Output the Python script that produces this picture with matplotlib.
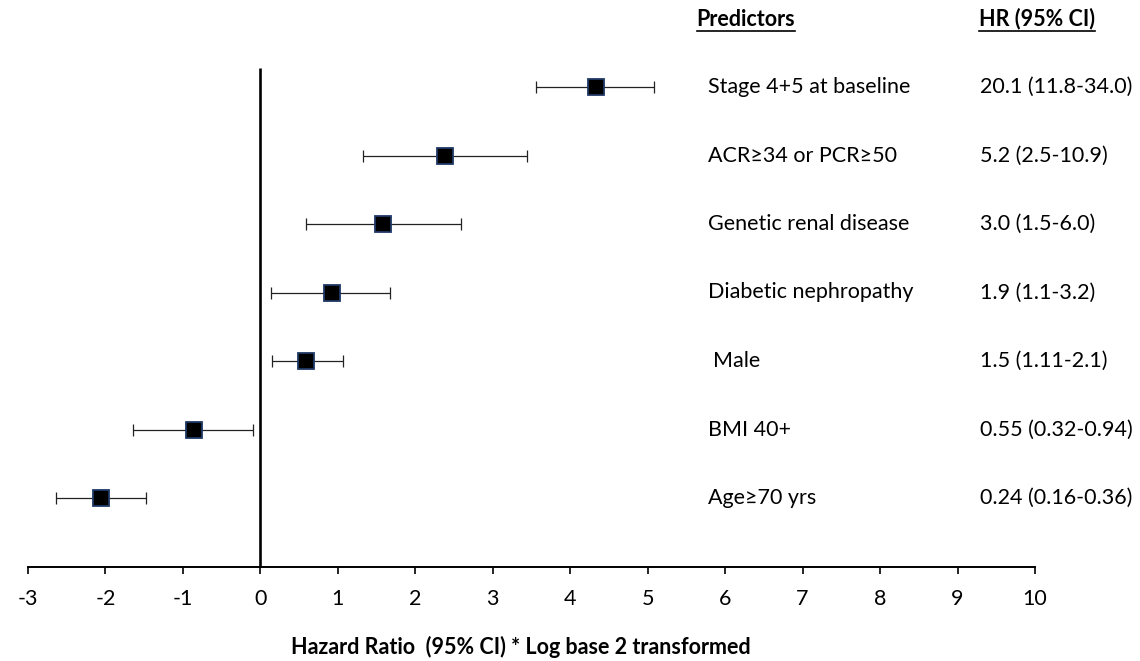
import numpy as np
import matplotlib
matplotlib.use("Agg")
import matplotlib.pyplot as plt
from matplotlib.lines import Line2D

plt.rcParams['font.family'] = ['Lato', 'DejaVu Sans']

predictors = ["Stage 4+5 at baseline", "ACR\u226534 or PCR\u226550", "Genetic renal disease",
              "Diabetic nephropathy", "Male", "BMI 40+", "Age\u226570 yrs"]
hr = [20.1, 5.2, 3.0, 1.9, 1.5, 0.55, 0.24]
ci_low = [11.8, 2.5, 1.5, 1.1, 1.11, 0.32, 0.16]
ci_high = [34.0, 10.9, 6.0, 3.2, 2.1, 0.94, 0.36]
hr_text = ["20.1 (11.8-34.0)", "5.2 (2.5-10.9)", "3.0 (1.5-6.0)", "1.9 (1.1-3.2)",
           "1.5 (1.11-2.1)", "0.55 (0.32-0.94)", "0.24 (0.16-0.36)"]
xticks = list(range(-3, 11))

W, H = 1140, 661
fig = plt.figure(figsize=(W / 100, H / 100), dpi=100)
ax_left, ax_right = 28, 1035
ax_bottom_px, ax_top_px = 567, 0
ax = fig.add_axes([ax_left / W, 1 - ax_bottom_px / H,
                   (ax_right - ax_left) / W, (ax_bottom_px - ax_top_px) / H])

row0, drow = 87, 68.5
ypos = np.arange(len(predictors))
ax.set_ylim((ax_bottom_px - row0) / drow, (ax_top_px - row0) / drow)
ax.set_xlim(-3, 10)

est = np.log2(hr)
lo = np.log2(ci_low)
hi = np.log2(ci_high)

# vertical reference line at 0
top_line = (68 - row0) / drow
ax.plot([0, 0], [top_line, ax.get_ylim()[0]], color='black', lw=1.9, zorder=1,
        solid_capstyle='butt')

ax.errorbar(est, ypos, xerr=[est - lo, hi - est], fmt='none', ecolor='#222222',
            elinewidth=0.9, capsize=4.5, capthick=0.9, zorder=2)
ax.plot(est, ypos, 's', color='black', markersize=11.5, markeredgecolor='#1F3864',
        markeredgewidth=1.3, zorder=3)

for s in ['top', 'right', 'left']:
    ax.spines[s].set_visible(False)
ax.spines['bottom'].set_linewidth(1.4)
ax.set_yticks([])
ax.set_xticks(xticks)
ax.set_xticklabels([str(t) for t in xticks])
ax.tick_params(axis='x', direction='out', length=5, width=1.2, pad=11, labelsize=15.5)

fs = 15.5
trans = matplotlib.transforms.blended_transform_factory(fig.transFigure, ax.transData)
for i, (p, t) in enumerate(zip(predictors, hr_text)):
    xl = 713 if p == "Male" else 708
    ax.text(xl / W, ypos[i], p, transform=trans, ha='left', va='center', fontsize=fs,
            clip_on=False)
    ax.text(980 / W, ypos[i], t, transform=trans, ha='left', va='center', fontsize=fs,
            clip_on=False)

h1 = fig.text(746 / W, 1 - 19 / H, "Predictors", ha='center', va='center', fontsize=fs,
              fontweight='bold')
h2 = fig.text(1037 / W, 1 - 19 / H, "HR (95% CI)", ha='center', va='center', fontsize=fs,
              fontweight='bold')
fig.text(521 / W, 1 - 647 / H, "Hazard Ratio  (95% CI) * Log base 2 transformed",
         ha='center', va='center', fontsize=15.5, fontweight='bold')

fig.canvas.draw()
r = fig.canvas.get_renderer()
for h in (h1, h2):
    bb = h.get_window_extent(renderer=r)
    yline = (bb.y0 - 1) / H
    fig.add_artist(Line2D([bb.x0 / W, bb.x1 / W], [yline, yline],
                          transform=fig.transFigure, color='black', lw=1.2))

fig.savefig("out.png", dpi=100)
